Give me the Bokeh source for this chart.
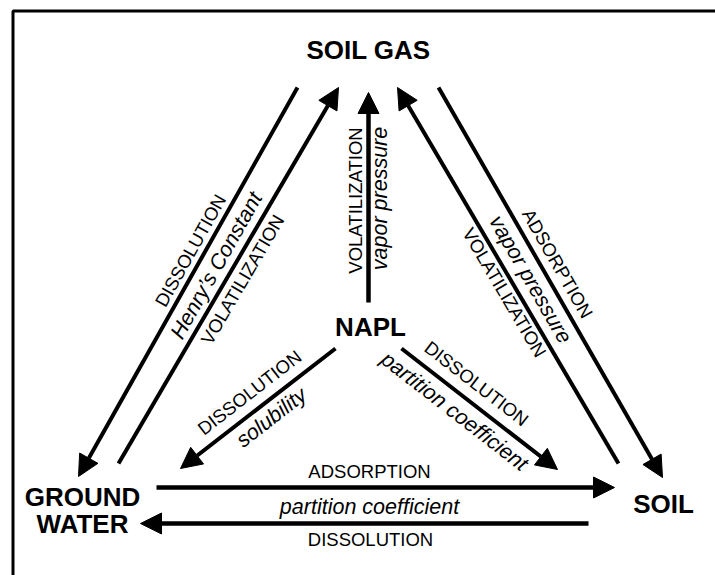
import math
from bokeh.plotting import figure
from bokeh.models import Range1d, Arrow, NormalHead, ColumnDataSource
from bokeh.core.properties import value
from bokeh.embed import file_html
from bokeh.resources import INLINE

# ---- diagram data (positions in page pixels) ----
node_names = ["SOIL GAS", "NAPL", "GROUND", "WATER", "SOIL"]
node_x = [368, 370, 82, 82, 663]
node_y = [49, 326, 496, 523, 503]

# arrows: start -> end (head at end)
arrow_names = ["soilgas_to_gw", "gw_to_soilgas", "soil_to_soilgas", "soilgas_to_soil",
               "napl_to_soilgas", "napl_to_gw", "napl_to_soil", "gw_to_soil", "soil_to_gw"]
arrow_x0 = [297, 118, 618, 438, 368, 335, 401, 156, 588]
arrow_y0 = [87, 463, 463, 87, 302, 348, 348, 487, 523]
arrow_x1 = [78, 338, 397, 662, 368, 180, 557, 614, 140]
arrow_y1 = [476, 87, 87, 477, 92, 468, 469, 487, 523]

label_text = ["DISSOLUTION", "Henry\u2019s Constant", "VOLATILIZATION",
              "VOLATILIZATION", "vapor pressure",
              "ADSORPTION", "vapor pressure", "VOLATILIZATION",
              "DISSOLUTION", "solubility",
              "DISSOLUTION", "partition coefficient",
              "ADSORPTION", "partition coefficient", "DISSOLUTION"]
label_arrow = [0, 0, 1, 4, 4, 3, 3, 2, 5, 5, 6, 6, 7, 7, 8]
label_x = [190, 216, 242, 355, 379, 557, 530, 504, 249, 271, 476, 454, 369, 369, 370]
label_y = [250, 265, 279, 200, 198, 263, 279, 292, 392, 417, 383, 411, 471, 506, 539]
label_italic = [False, True, False, False, True, False, True, False,
                False, True, False, True, False, True, False]

# ---- figure ----
W, H = 715, 575
p = figure(width=W, height=H, output_backend="svg", toolbar_location=None,
           x_range=Range1d(0, W), y_range=Range1d(H, 0),
           x_axis_location=None, y_axis_location=None, min_border=0,
           outline_line_color=None, background_fill_color="white")
p.xgrid.visible = False
p.ygrid.visible = False

# frame (extends past right/bottom edge as in the reference)
p.quad(left=[12.5], right=[760], top=[10.5], bottom=[620],
       fill_color=None, line_color="black", line_width=3)

# arrows
def add_arrows(idx, lw):
    src = ColumnDataSource(dict(
        x0=[arrow_x0[i] for i in idx], y0=[arrow_y0[i] for i in idx],
        x1=[arrow_x1[i] for i in idx], y1=[arrow_y1[i] for i in idx]))
    p.add_layout(Arrow(end=NormalHead(size=21, fill_color="black", line_color="black", line_width=1),
                       x_start="x0", y_start="y0", x_end="x1", y_end="y1",
                       line_color="black", line_width=lw, source=src))

add_arrows([0, 1, 2, 3, 5, 6], 4)
add_arrows([4, 7, 8], 4.5)

def text_angle(i):
    dx = arrow_x1[i] - arrow_x0[i]
    dy = arrow_y1[i] - arrow_y0[i]
    a = math.atan2(-dy, dx)
    if a > math.pi / 2 + 1e-9:
        a -= math.pi
    elif a < -math.pi / 2 - 1e-9:
        a += math.pi
    return a

for italic in (False, True):
    idx = [k for k in range(len(label_text)) if label_italic[k] == italic]
    src = ColumnDataSource(dict(
        x=[label_x[k] for k in idx], y=[label_y[k] for k in idx],
        t=[label_text[k] for k in idx],
        a=[text_angle(label_arrow[k]) for k in idx]))
    p.text(x="x", y="y", text="t", angle="a", source=src,
           text_font=value("Liberation Sans"),
           text_font_style="italic" if italic else "normal",
           text_font_size="21.5px" if italic else "18.5px",
           text_align="center", text_baseline="middle", text_color="black")

p.text(x=node_x, y=node_y, text=node_names, text_font=value("Liberation Sans"),
       text_font_style="bold", text_font_size="26px",
       text_align="center", text_baseline="middle", text_color="black")

open("out.html", "w").write(file_html(p, INLINE))
